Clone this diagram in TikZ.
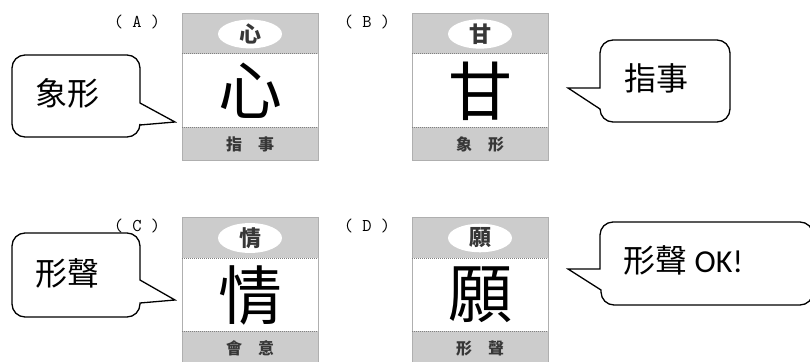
\documentclass[tikz,border=0pt]{standalone}
\usepackage{fontspec}
\setmainfont{Liberation Serif}
\newfontfamily\cjk{Noto Sans CJK TC}
\newfontfamily\okfont{Carlito}
\usetikzlibrary{shapes.geometric}
\definecolor{band}{RGB}{204,204,204}
\definecolor{frame}{RGB}{175,175,175}
\definecolor{ink}{RGB}{55,55,55}
\tikzset{
  bubble/.style={draw=black,line width=1.3pt,fill=white},
  bubbletext/.style={font=\cjk\fontsize{32}{32}\selectfont},
  headchar/.style={ellipse,fill=white,minimum width=64pt,minimum height=24pt,inner sep=0pt,
    text=ink,font=\cjk\bfseries\fontsize{22}{22}\selectfont},
  sealchar/.style={font=\cjk\fontsize{64}{64}\selectfont},
  kindtext/.style={text=ink,font=\cjk\bfseries\fontsize{16}{16}\selectfont},
  cardlabel/.style={font=\ttfamily\fontsize{18}{18}\selectfont}
}
\begin{document}
\begin{tikzpicture}[x=1pt,y=-1pt]
\useasboundingbox (0,0) rectangle (810,361);
% speech bubbles
\coordinate (tipA) at (175,122);
\coordinate (tipB) at (568,88);
\coordinate (tipC) at (175,300);
\coordinate (tipD) at (568,269);
\draw[bubble] (140,103)--(tipA)--(140,125) {[rounded corners=13pt] --(140,137)--(12,137)--(12,55)--(140,55)} --cycle;
\draw[bubble] (600,109)--(tipB)--(600,88) {[rounded corners=13pt] --(600,40)--(730,40)--(730,122)--(600,122)} --cycle;
\draw[bubble] (140,280)--(tipC)--(140,303) {[rounded corners=13pt] --(140,317)--(12,317)--(12,233)--(140,233)} --cycle;
\draw[bubble] (601,290)--(tipD)--(600,269) {[rounded corners=13pt] --(600,222)--(813,222)--(813,305)--(601,305)} --cycle;
\node[bubbletext] (textA) at (67,93) {象形};
\node[bubbletext] (textB) at (656,78) {指事};
\node[bubbletext] (textC) at (67,273) {形聲};
\node[bubbletext,anchor=west] (textD) at (620,260) {形聲 {\okfont OK!}};
% the four cards
\foreach \x/\y/\lab/\ch/\kind in {182/13/A/心/指\quad 事,412/13/B/甘/象\quad 形,182/217/C/情/會\quad 意,412/217/D/願/形\quad 聲}
{
  \begin{scope}[shift={(\x,\y)}]
    \fill[band] (0,0) rectangle (136,41);
    \fill[band] (0,114) rectangle (136,147);
    \draw[frame,line width=.8pt] (0,0) rectangle (136,147);
    \draw[gray,densely dotted,line width=1pt] (0,41)--(136,41);
    \draw[gray,densely dotted,line width=1pt] (0,114)--(136,114);
    \node[headchar] (top\lab) at (68,21) {\ch};
    \node[sealchar] (seal\lab) at (68,78) {\ch};
    \node[kindtext] (kind\lab) at (68,131) {\kind};
    \node[cardlabel] (label\lab) at (-45,9) {( \lab\ )};
  \end{scope}
}
\end{tikzpicture}
\end{document}
